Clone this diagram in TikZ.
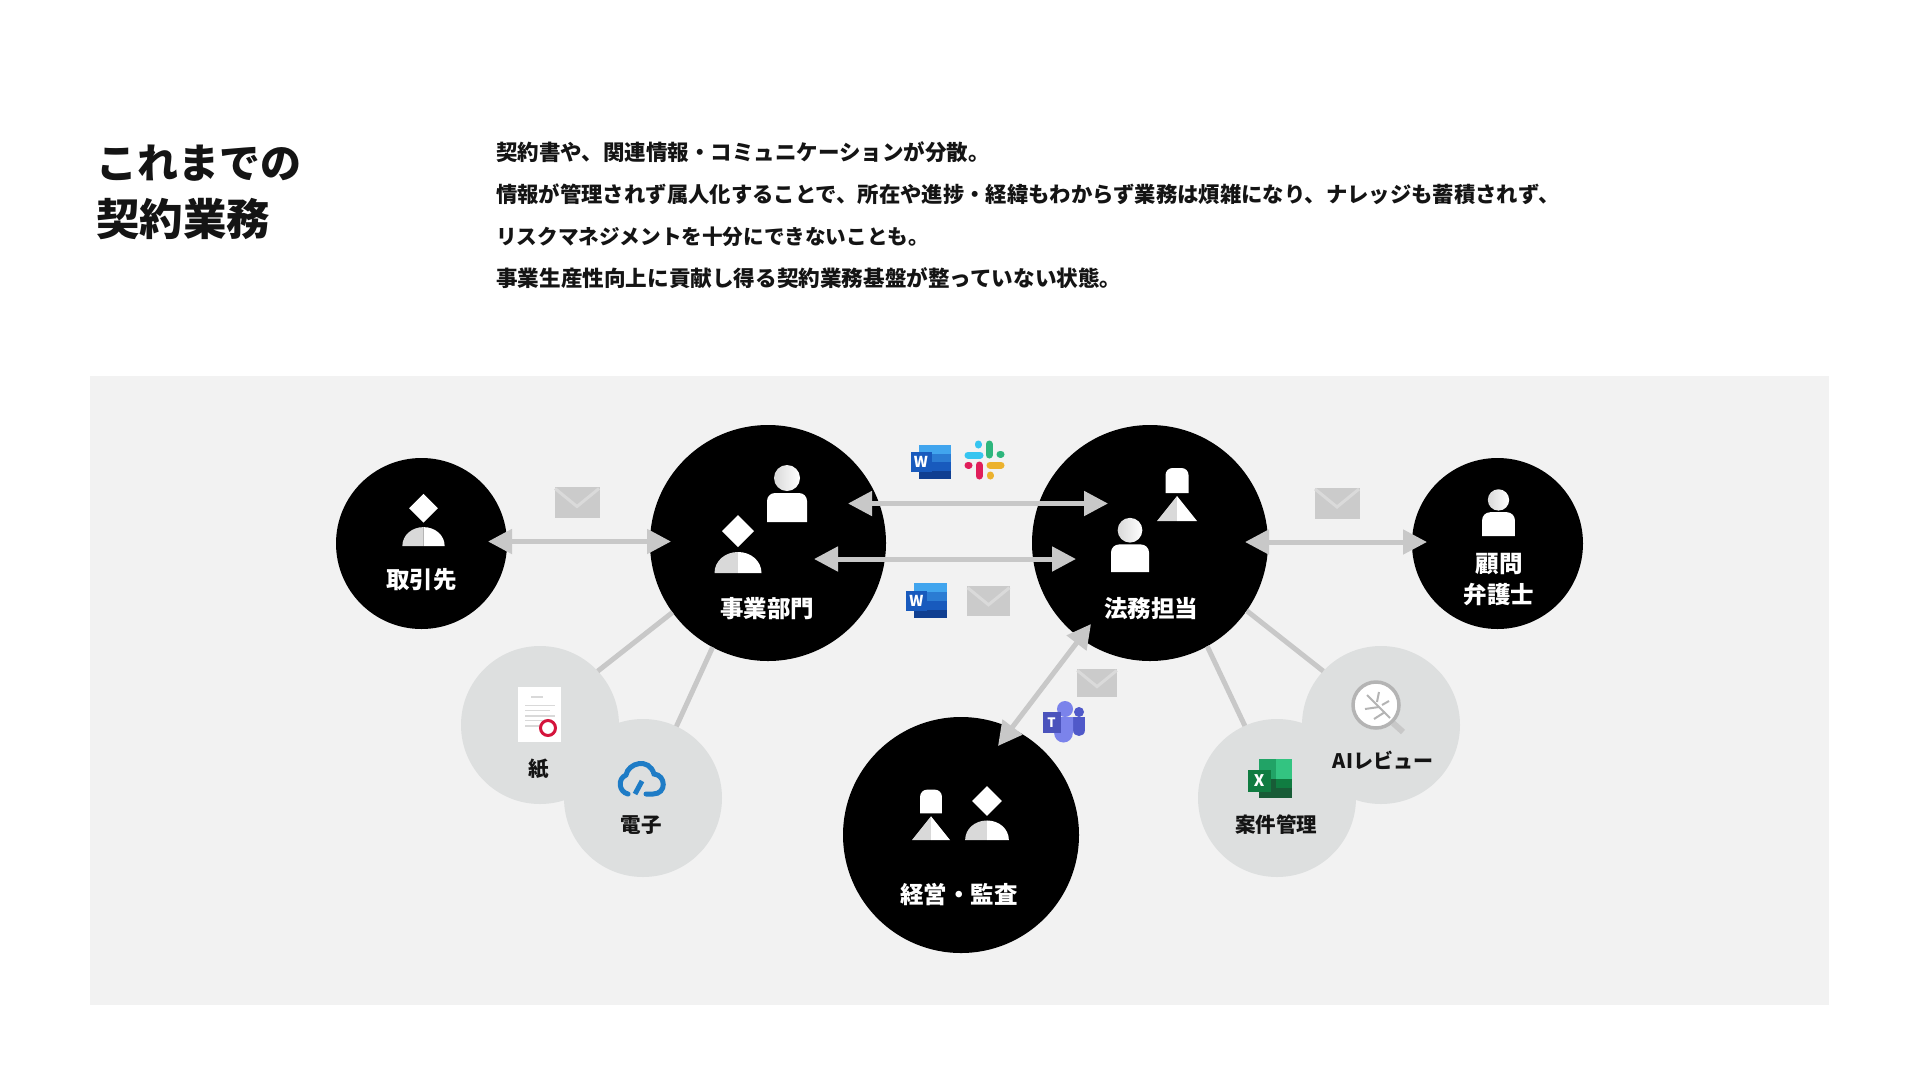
\documentclass[tikz,border=0pt]{standalone}
\usepackage{fontspec}
\setmainfont{Noto Sans CJK JP}
\usepackage{xcolor}
\usetikzlibrary{arrows.meta, positioning}
\definecolor{panelgray}{HTML}{F2F2F2}
\definecolor{bubblegray}{HTML}{DDDFDF}
\definecolor{linkgray}{HTML}{C8C8C8}
\definecolor{icongray}{HTML}{D9D9D9}
\definecolor{mailgray}{HTML}{CBCBCB}
\definecolor{mailflap}{HTML}{DADADA}
\definecolor{inkblack}{HTML}{141414}
\definecolor{wordone}{HTML}{41A5EE}
\definecolor{wordtwo}{HTML}{2B7CD3}
\definecolor{wordthree}{HTML}{185ABD}
\definecolor{wordfour}{HTML}{103F91}
\definecolor{exone}{HTML}{21A366}
\definecolor{extwo}{HTML}{33C481}
\definecolor{exthree}{HTML}{185C37}
\definecolor{extile}{HTML}{107C41}
\definecolor{slackblue}{HTML}{36C5F0}
\definecolor{slackgreen}{HTML}{2EB67D}
\definecolor{slackred}{HTML}{E01E5A}
\definecolor{slackyellow}{HTML}{ECB22E}
\definecolor{teamsdark}{HTML}{5059C9}
\definecolor{teamslight}{HTML}{7B83EB}
\definecolor{teamstile}{HTML}{4B53BC}
\definecolor{cloudblue}{HTML}{1E7CC6}
\definecolor{stampred}{HTML}{D4143C}

\begin{document}
\begin{tikzpicture}[x=1pt, y=-1pt,
  hub/.style={circle, fill=black, inner sep=0pt, outer sep=0pt, minimum size=236pt},
  party/.style={circle, fill=black, inner sep=0pt, outer sep=0pt, minimum size=171pt},
  tool/.style={circle, fill=bubblegray, inner sep=0pt, outer sep=0pt, minimum size=158pt},
  whitelbl/.style={text=white, inner sep=0pt, align=center, font=\fontsize{23.5}{31}\selectfont\bfseries},
  toollbl/.style={text=inkblack, inner sep=0pt, font=\fontsize{20.5}{24}\selectfont\bfseries},
  arr/.style={{Triangle[length=24pt,width=24pt]}-{Triangle[length=24pt,width=24pt]}, linkgray, line width=5pt},
  lnk/.style={linkgray, line width=5pt},
  % icons: origin at base centre, y grows down
  personicon/.pic={
    \shade[left color=icongray, right color=white] (0,-44) circle[radius=13];
    \fill[white] (-20,0) [rounded corners=8pt] -- (-20,-29) -- (20,-29) [sharp corners] -- (20,0) -- cycle;
  },
  diamondicon/.pic={
    \fill[white] (0,-58) -- (16,-42) -- (0,-26) -- (-16,-42) -- cycle;
    \fill[icongray] (-23.5,0) .. controls (-23.5,-12) and (-13,-21) .. (0,-21) -- (0,0) -- cycle;
    \fill[white] (23.5,0) .. controls (23.5,-12) and (13,-21) .. (0,-21) -- (0,0) -- cycle;
  },
  towericon/.pic={
    \fill[white] (-11.5,-28) [rounded corners=7pt] -- (-11.5,-53) -- (11.5,-53) [sharp corners] -- (11.5,-28) -- cycle;
    \fill[icongray] (-20,0) -- (0,-25) -- (0,0) -- cycle;
    \fill[white] (20,0) -- (0,-25) -- (0,0) -- cycle;
  },
  mailicon/.pic={
    \fill[mailgray] (-22.5,-15.5) rectangle (22.5,15.5);
    \draw[mailflap, line width=3pt] (-22,-14) -- (0,4) -- (22,-14);
  },
  wordicon/.pic={
    \fill[wordone] (8,0) rectangle (40,9);
    \fill[wordtwo] (8,9) rectangle (40,17);
    \fill[wordthree] (8,17) rectangle (40,26);
    \fill[wordfour] (8,26) rectangle (40,34);
    \node[fill=wordthree, text=white, inner sep=0pt, minimum width=21pt, minimum height=20pt,
      font=\fontsize{15}{15}\selectfont\bfseries] (letter) at (10,17) {W};
  },
  excelicon/.pic={
    \fill[exone] (11,0) rectangle (44,39);
    \fill[extwo] (28,0) rectangle (44,20);
    \fill[exthree] (11,20) rectangle (44,39);
    \fill[extile] (28,20) rectangle (44,29);
    \node[fill=extile, text=white, inner sep=0pt, minimum width=23pt, minimum height=22pt,
      font=\fontsize{16}{16}\selectfont\bfseries] (letter) at (11,22) {X};
  },
  slackicon/.pic={
    \begin{scope}[line width=7pt, line cap=round]
      \draw[slackblue] (-16,-5) -- (-4,-5);
      \draw[slackblue] (-6,-16) -- (-6,-15);
      \draw[slackgreen] (5,-16) -- (5,-5);
      \draw[slackgreen] (17,-6) -- (16,-6);
      \draw[slackred] (-5,5) -- (-5,16);
      \draw[slackred] (-16,5) -- (-15,5);
      \draw[slackyellow] (6,5) -- (17,5);
      \draw[slackyellow] (6,16) -- (6,15);
    \end{scope}
  },
  teamsicon/.pic={
    \fill[teamsdark] (35,57) rectangle (55,70);
    \fill[teamsdark] (43,70) .. controls (43,78) and (55,78) .. (55,70) -- cycle;
    \fill[teamsdark] (49,52) circle[radius=5];
    \fill[teamslight] (24,57) -- (43,57) -- (43,72) .. controls (43,86) and (24,86) .. (24,72) -- cycle;
    \fill[teamslight] (35,49) circle[radius=8];
    \node[fill=teamstile, text=white, inner sep=0pt, minimum width=18pt, minimum height=21pt,
      font=\fontsize{13}{13}\selectfont\bfseries] (letter) at (21.5,62.5) {T};
  },
  papericon/.pic={
    \fill[white] (0,0) rectangle (43,55);
    \draw[icongray, line width=1.5pt] (13,10) -- (25,10);
    \foreach \ly/\lx in {18.5/37, 23.5/32, 29/37, 33.5/28, 39/22}
      \draw[icongray, line width=1.2pt] (7,\ly) -- (\lx,\ly);
    \draw[stampred, line width=3pt] (30,41) circle[radius=7.5];
  },
  cloudicon/.pic={
    \draw[cloudblue, line width=5pt, line cap=round]
      (11,35) .. controls (2,33) and (0,20) .. (9,16) .. controls (11,4) and (32,-2) .. (37,15)
      .. controls (49,16) and (50,35) .. (36,35) -- (29,35);
    \draw[cloudblue, line width=5pt] (18,35) -- (25,22);
  },
  lensicon/.pic={
    \draw[linkgray, line width=6pt] (17,18) -- (27,27);
    \draw[linkgray!90!black, fill=white, line width=3.5pt] (0,0) circle[radius=23];
    \begin{scope}[linkgray!90!black, line width=2pt]
      \draw (14,13) -- (-9,-10);
      \draw (3,2) -- (-11,4);
      \draw (9,7) -- (-2,14);
      \draw (1,-3) -- (3,-13);
      \draw (6,0) -- (13,-4);
    \end{scope}
  }
]
\useasboundingbox (0,0) rectangle (1920,1080);
\fill[panelgray] (90,376) rectangle (1829,1005);

\node[anchor=north west, inner sep=0pt, align=left, text=inkblack,
  font=\fontsize{41}{57}\selectfont\bfseries] (title) at (96,145)
  {これまでの\\{\fontsize{43.5}{57}\selectfont 契約業務}};
\node[anchor=north west, inner sep=0pt, align=left, text=inkblack,
  font=\fontsize{21.4}{42}\selectfont\bfseries] (intro) at (496,141.5)
  {{\fontsize{21.5}{42}\selectfont 契約書や、関連情報・コミュニケーションが分散。}\\
   {\fontsize{21.35}{42}\selectfont 情報が管理されず属人化することで、所在や進捗・経緯もわからず業務は煩雑になり、ナレッジも蓄積されず、}\\
   {\fontsize{20.6}{42}\selectfont リスクマネジメントを十分にできないことも。}\\
   {\fontsize{21.6}{42}\selectfont 事業生産性向上に貢献し得る契約業務基盤が整っていない状態。}};

% tool bubbles
\node[tool] (pa) at (540,725) {};
\node[tool] (de) at (643,798) {};
\node[tool] (ai) at (1381,725) {};
\node[tool] (an) at (1277,798) {};

% people
\node[party] (tr) at (421.5,543.5) {};
\node[hub] (bd) at (768,543) {};
\node[hub] (lg) at (1150,543) {};
\node[party] (kn) at (1497.5,543.5) {};
\node[hub] (ke) at (961,835) {};

\draw[lnk] (bd.216) -- (pa.43);
\draw[lnk] (bd.242) -- (de.65);
\draw[lnk] (lg.-35) -- (ai.137);
\draw[lnk] (lg.-61) -- (an.114);

\pic[scale=.9] at (423.5,546) {diamondicon};
\pic at (787,522) {personicon};
\pic at (738,573) {diamondicon};
\pic at (1177,521) {towericon};
\pic[scale=.95] at (1130,572) {personicon};
\pic[scale=.82] at (1498.5,536) {personicon};
\pic[scale=.95] at (931,840) {towericon};
\pic[scale=.93] at (987,840) {diamondicon};

\node[whitelbl] (trlbl) at (421.5,580) {取引先};
\node[whitelbl] (bdlbl) at (767,609) {事業部門};
\node[whitelbl] (lglbl) at (1151,609) {法務担当};
\node[whitelbl] (knlbl) at (1499,580) {顧問\\弁護士};
\node[whitelbl] (kelbl) at (959,895) {経営・監査};
\node[toollbl] (palbl) at (539,769.5) {紙};
\node[toollbl] (delbl) at (641,825) {電子};
\node[toollbl, font=\fontsize{20}{24}\selectfont\bfseries] (ailbl) at (1383,760) {AIレビュー};
\node[toollbl] (anlbl) at (1276,825) {案件管理};

% link ends
\coordinate (trr) at (488,541.5);
\coordinate (bdl) at (671,541.5);
\coordinate (bdu) at (848,503.5);
\coordinate (lgu) at (1108,503.5);
\coordinate (bdd) at (814,559);
\coordinate (lgd) at (1076,559);
\coordinate (lgr) at (1245,542);
\coordinate (knl) at (1427,542);
\coordinate (lgb) at (1091,624);
\coordinate (ket) at (998,746);
\draw[arr] (trr)--(bdl);
\draw[arr] (bdu)--(lgu);
\draw[arr] (bdd)--(lgd);
\draw[arr] (lgr)--(knl);
\draw[arr] (lgb)--(ket);

\pic at (577,502.5) {mailicon};
\pic at (1337,503) {mailicon};
\pic[scale=.95] at (988.5,601) {mailicon};
\pic[scale=.9] at (1097,683) {mailicon};
\pic (wordtop) at (911,445) {wordicon};
\pic (wordlow) [scale=1.03] at (906,583) {wordicon};
\pic at (984,460) {slackicon};
\pic (teams) at (1030,660) {teamsicon};
\pic (excel) at (1248,759) {excelicon};
\pic at (518,687) {papericon};
\pic at (617,759) {cloudicon};
\pic at (1376,705) {lensicon};
\end{tikzpicture}
\end{document}
